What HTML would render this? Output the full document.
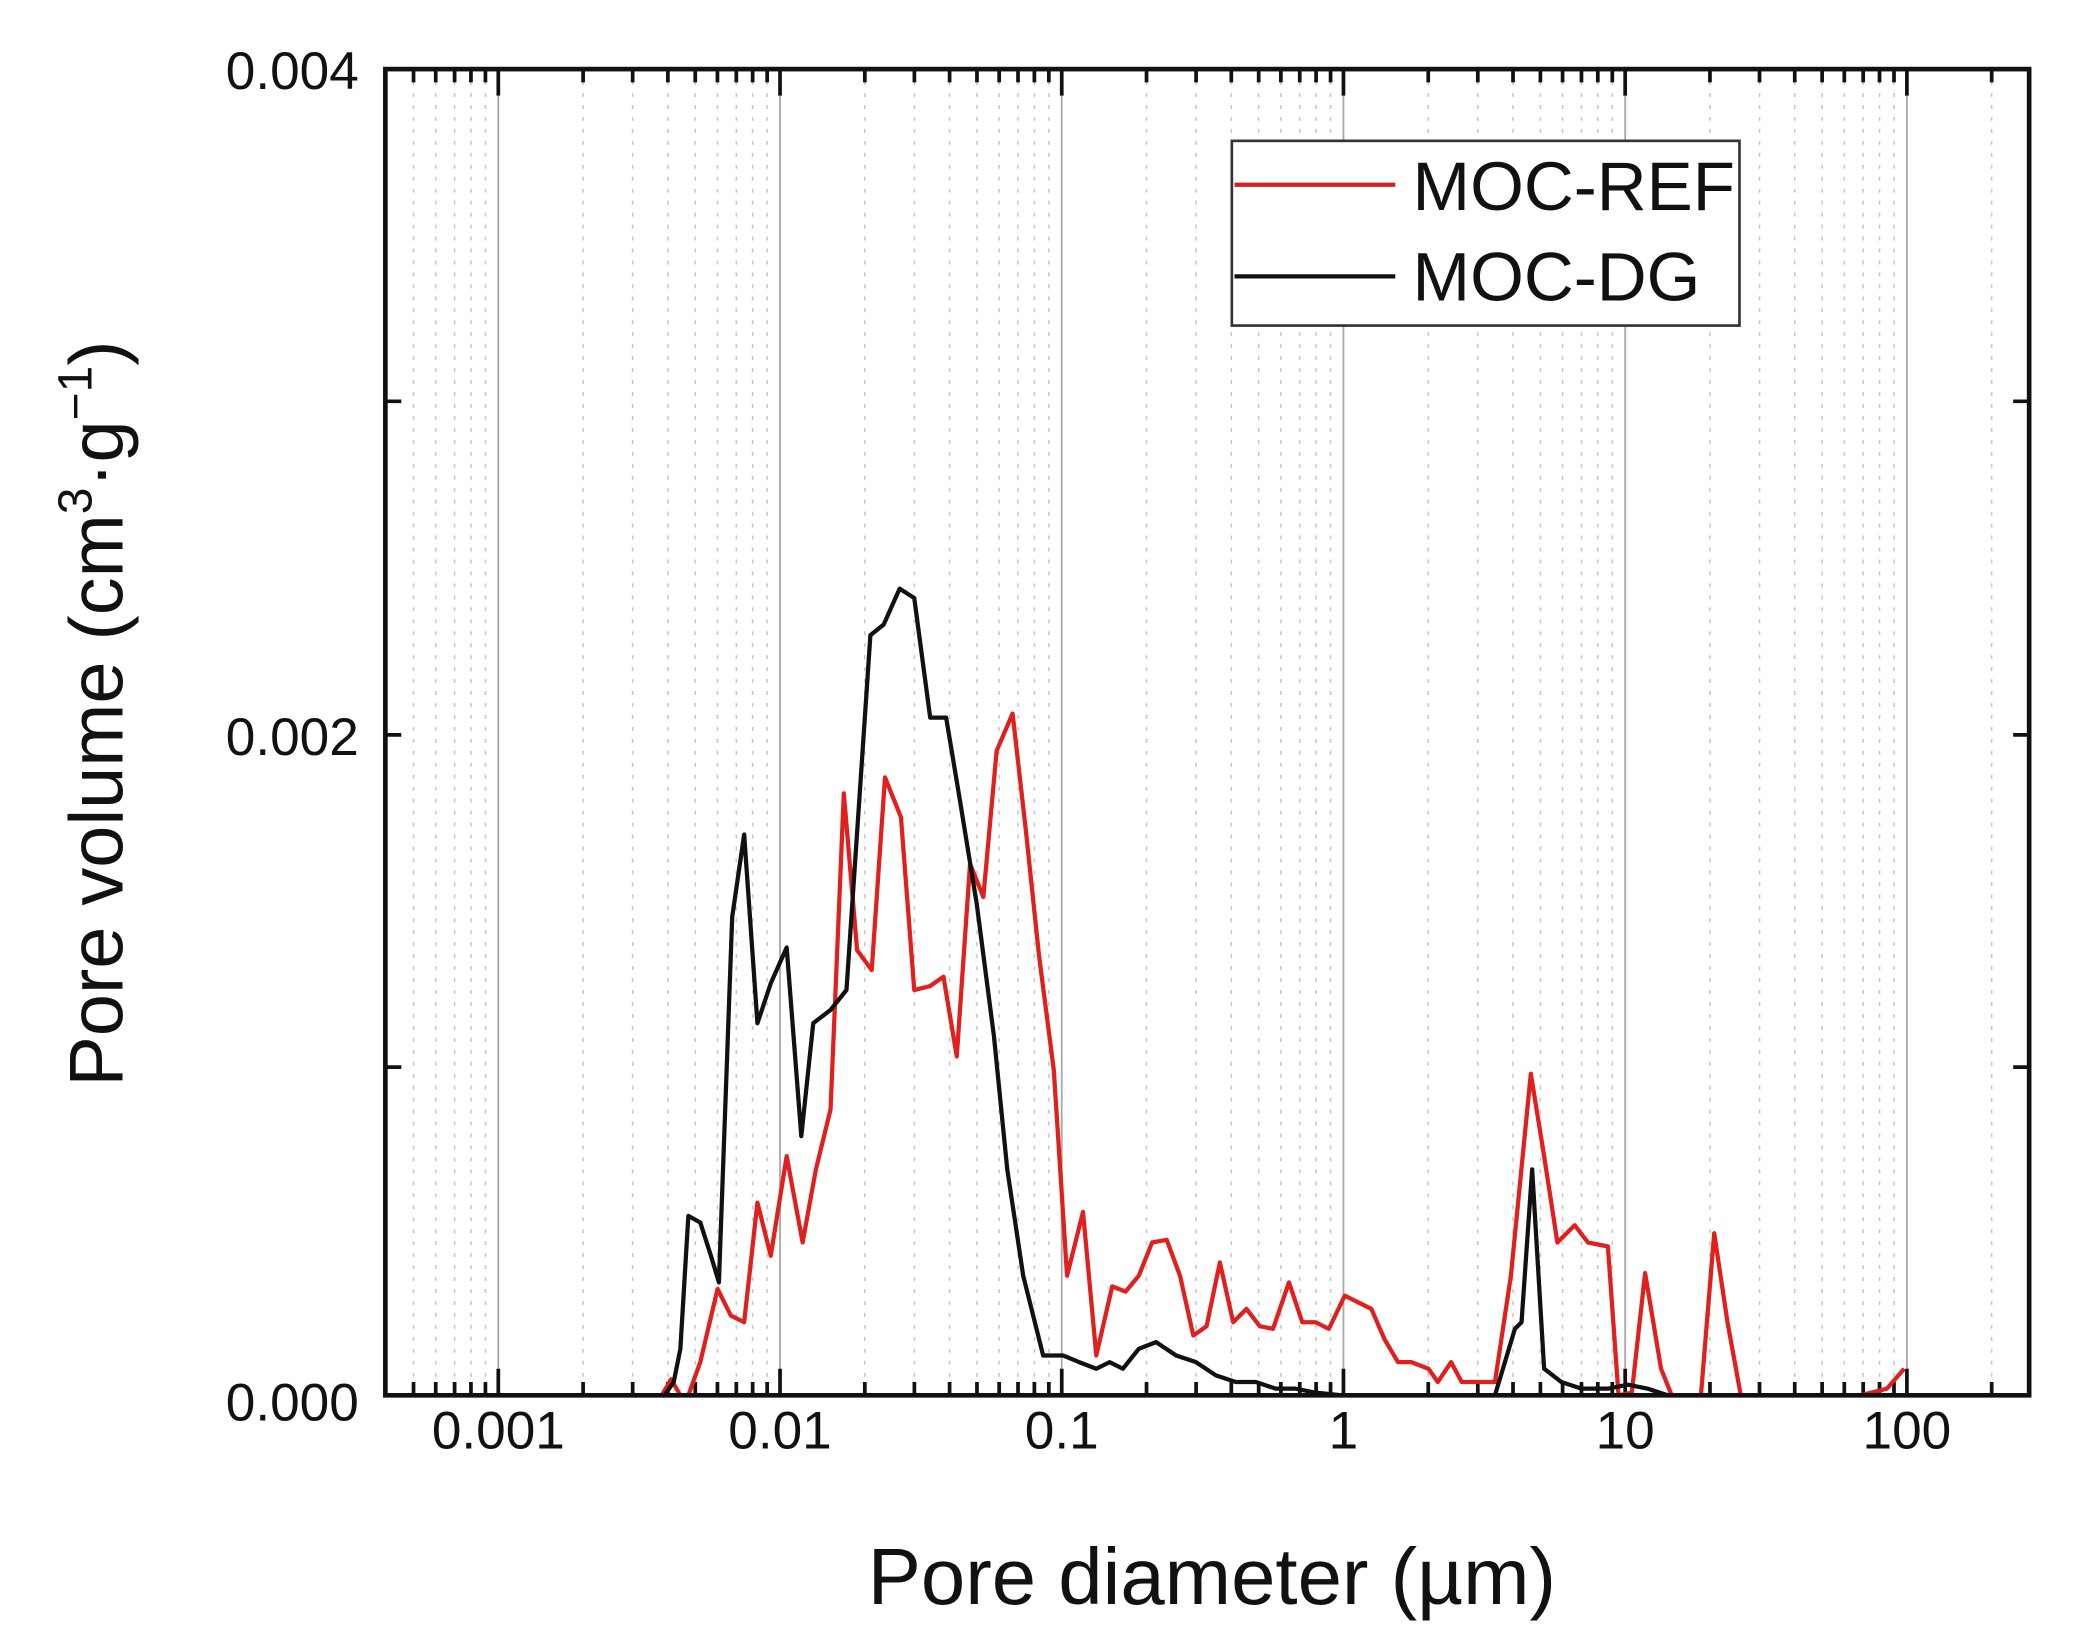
<!DOCTYPE html>
<html><head><meta charset="utf-8"><style>
html,body{margin:0;padding:0;background:#fff;}
svg{display:block;}
text{font-family:"Liberation Sans",Arial,sans-serif;fill:#111;}
</style></head><body>
<svg width="2073" height="1647" viewBox="0 0 1560 1239.4" preserveAspectRatio="none" xmlns="http://www.w3.org/2000/svg">
<rect width="1560" height="1239.4" fill="#fff"/>
<path fill="none" stroke="#c8c8c8" stroke-width="1.2" stroke-dasharray="3,6" d="M311.2,52V1050M327.9,52V1050M342.1,52V1050M354.4,52V1050M365.3,52V1050
M438.8,52V1050M476.1,52V1050M502.6,52V1050M523.2,52V1050M539.9,52V1050M554.1,52V1050M566.4,52V1050M577.3,52V1050
M650.8,52V1050M688.1,52V1050M714.6,52V1050M735.2,52V1050M751.9,52V1050M766.1,52V1050M778.4,52V1050M789.3,52V1050
M862.8,52V1050M900.1,52V1050M926.6,52V1050M947.2,52V1050M963.9,52V1050M978.1,52V1050M990.4,52V1050M1001.3,52V1050
M1074.8,52V1050M1112.1,52V1050M1138.6,52V1050M1159.2,52V1050M1175.9,52V1050M1190.1,52V1050M1202.4,52V1050M1213.3,52V1050
M1286.8,52V1050M1324.1,52V1050M1350.6,52V1050M1371.2,52V1050M1387.9,52V1050M1402.1,52V1050M1414.4,52V1050M1425.3,52V1050
M1498.8,52V1050"/>
<path fill="none" stroke="#aaa" stroke-width="1.4" d="M375,52V1050M587,52V1050M799,52V1050M1011,52V1050M1223,52V1050M1435,52V1050"/>
<path fill="none" stroke="#111" stroke-width="2.8" d="M311.2,1050v-10M327.9,1050v-10M342.1,1050v-10M354.4,1050v-10M365.3,1050v-10
M438.8,1050v-10M476.1,1050v-10M502.6,1050v-10M523.2,1050v-10M539.9,1050v-10M554.1,1050v-10M566.4,1050v-10M577.3,1050v-10
M650.8,1050v-10M688.1,1050v-10M714.6,1050v-10M735.2,1050v-10M751.9,1050v-10M766.1,1050v-10M778.4,1050v-10M789.3,1050v-10
M862.8,1050v-10M900.1,1050v-10M926.6,1050v-10M947.2,1050v-10M963.9,1050v-10M978.1,1050v-10M990.4,1050v-10M1001.3,1050v-10
M1074.8,1050v-10M1112.1,1050v-10M1138.6,1050v-10M1159.2,1050v-10M1175.9,1050v-10M1190.1,1050v-10M1202.4,1050v-10M1213.3,1050v-10
M1286.8,1050v-10M1324.1,1050v-10M1350.6,1050v-10M1371.2,1050v-10M1387.9,1050v-10M1402.1,1050v-10M1414.4,1050v-10M1425.3,1050v-10
M1498.8,1050v-10
M311.2,52v10M327.9,52v10M342.1,52v10M354.4,52v10M365.3,52v10
M438.8,52v10M476.1,52v10M502.6,52v10M523.2,52v10M539.9,52v10M554.1,52v10M566.4,52v10M577.3,52v10
M650.8,52v10M688.1,52v10M714.6,52v10M735.2,52v10M751.9,52v10M766.1,52v10M778.4,52v10M789.3,52v10
M862.8,52v10M900.1,52v10M926.6,52v10M947.2,52v10M963.9,52v10M978.1,52v10M990.4,52v10M1001.3,52v10
M1074.8,52v10M1112.1,52v10M1138.6,52v10M1159.2,52v10M1175.9,52v10M1190.1,52v10M1202.4,52v10M1213.3,52v10
M1286.8,52v10M1324.1,52v10M1350.6,52v10M1371.2,52v10M1387.9,52v10M1402.1,52v10M1414.4,52v10M1425.3,52v10
M1498.8,52v10
M375,1050v-20M587,1050v-20M799,1050v-20M1011,1050v-20M1223,1050v-20M1435,1050v-20
M375,52v20M587,52v20M799,52v20M1011,52v20M1223,52v20M1435,52v20
M290,302h12M290,553h12M290,803h12M1527,302h-12M1527,553h-12M1527,803h-12"/>
<polyline fill="none" stroke="#e0201e" stroke-width="3.2" stroke-linejoin="round" points="498,1050 505,1038 512,1050 518,1050 527,1025 540,970 550,990 560,995 570,905 580,945 592,870 604,935 614,880 625,835 635,597 645,715 656,730 666,585 678,615 688,745 700,742 710,735 720,795 730,650 740,675 750,565 762,537 772,625 782,720 793,805 803,960 815,912 825,1020 837,968 847,972 857,960 867,935 878,933 888,960 898,1005 908,998 918,950 928,995 938,985 948,998 958,1000 970,965 980,995 990,995 1000,1000 1012,975 1022,980 1032,985 1042,1008 1052,1025 1062,1025 1075,1030 1082,1040 1092,1025 1100,1040 1112,1040 1125,1040 1137,960 1152,808 1162,870 1172,935 1185,922 1195,935 1210,938 1218,1050 1228,1048 1238,958 1250,1030 1258,1050 1280,1050 1290,928 1300,995 1310,1050 1400,1050 1420,1045 1433,1030"/>
<polyline fill="none" stroke="#111" stroke-width="3.2" stroke-linejoin="round" points="500,1050 507,1040 512,1015 518,915 527,920 535,945 541,965 551,690 560,628 570,770 580,740 592,713 603,855 612,770 625,760 637,745 655,478 665,470 677,443 688,450 700,540 712,540 722,600 735,680 748,780 758,880 770,960 785,1020 800,1020 812,1025 825,1030 835,1025 845,1030 857,1015 870,1010 885,1020 900,1025 915,1035 930,1040 945,1040 960,1045 975,1045 990,1048 1010,1050 1125,1050 1140,1000 1145,995 1153,880 1162,1030 1175,1040 1190,1045 1210,1045 1225,1042 1240,1045 1255,1050"/>
<rect x="290" y="52" width="1237" height="998" fill="none" stroke="#111" stroke-width="3.5"/>
<rect x="927" y="106" width="382" height="139" fill="#fff" stroke="#333" stroke-width="2"/>
<line x1="929" y1="139" x2="1050" y2="139" stroke="#d42020" stroke-width="3.2"/>
<line x1="929" y1="208" x2="1050" y2="208" stroke="#111" stroke-width="3.2"/>
<text x="1063" y="158" font-size="52">MOC-REF</text>
<text x="1063" y="226" font-size="52">MOC-DG</text>
<g font-size="40" text-anchor="end">
<text x="270" y="67">0.004</text>
<text x="270" y="568">0.002</text>
<text x="270" y="1069">0.000</text>
</g>
<g font-size="40" text-anchor="middle">
<text x="375" y="1090">0.001</text>
<text x="587" y="1090">0.01</text>
<text x="799" y="1090">0.1</text>
<text x="1011" y="1090">1</text>
<text x="1223" y="1090">10</text>
<text x="1435" y="1090">100</text>
</g>
<text x="912" y="1207" font-size="60" text-anchor="middle">Pore diameter (µm)</text>
<text transform="translate(92,537) rotate(-90)" font-size="57" text-anchor="middle">Pore volume (cm<tspan font-size="36" dy="-23">3</tspan><tspan dy="23">·g</tspan><tspan font-size="36" dy="-23">−1</tspan><tspan dy="23">)</tspan></text>
</svg>
</body></html>
